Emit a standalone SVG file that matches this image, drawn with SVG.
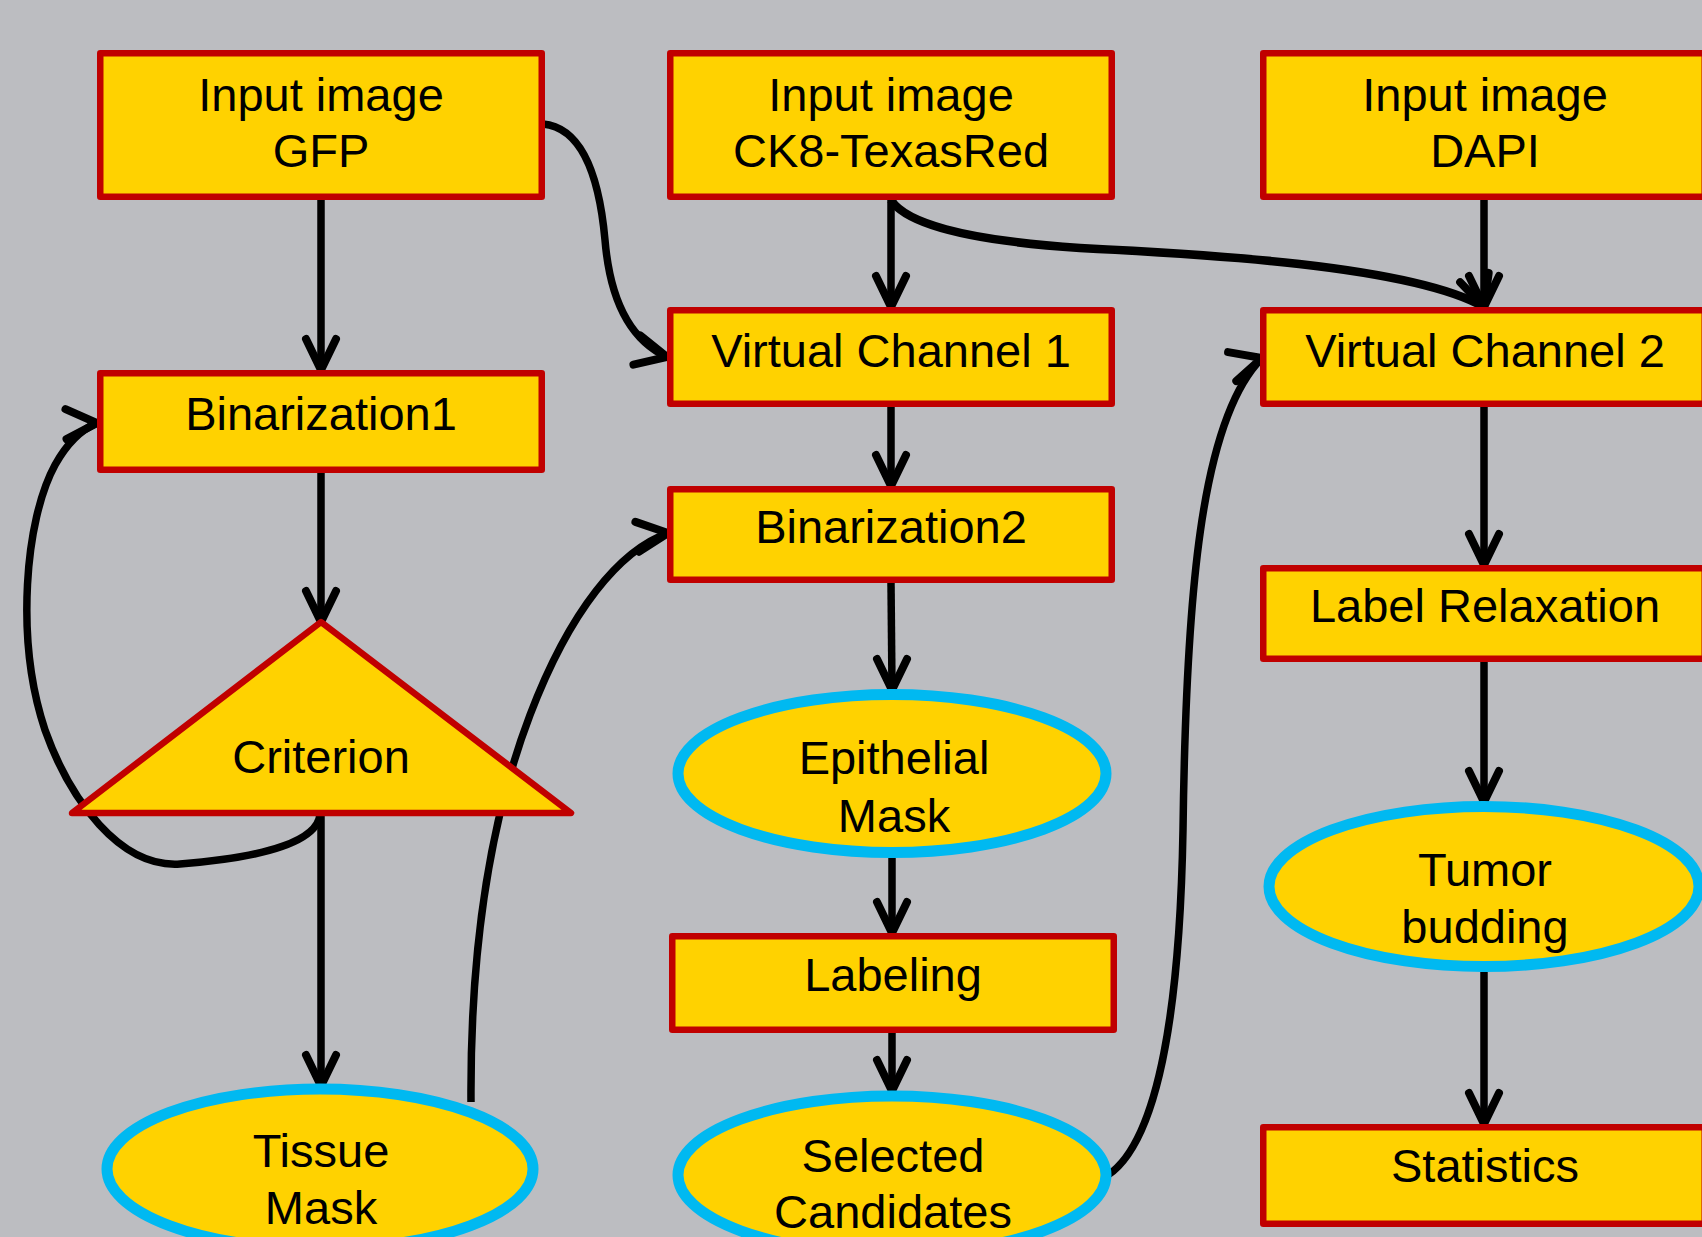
<svg xmlns="http://www.w3.org/2000/svg" xmlns:xlink="http://www.w3.org/1999/xlink" width="1702" height="1237" viewBox="0 0 1702 1237">
<style>
.box{fill:#FFD200;stroke:#C00000;stroke-width:6.5;stroke-linejoin:round}
.oval{fill:#FFD200;stroke:#00B9F1;stroke-width:11}
.tri{fill:#FFD200;stroke:#C00000;stroke-width:6.5;stroke-linejoin:round}
.lbl{font-family:"Liberation Sans",Arial,sans-serif;font-size:47px;fill:#000;text-anchor:middle}
.ln{fill:none;stroke:#000;stroke-width:7.5}
.hd{fill:none;stroke:#000;stroke-width:8;stroke-linecap:round;stroke-linejoin:miter}
</style>
<defs>
<path id="ah" d="M-31,-15 L0,0 L-31,15"/>
</defs>
<rect width="1702" height="1237" fill="#BCBDC1"/>
<g id="connectors">
<path class="ln" d="M321,200 L321,368"/>
<path class="ln" d="M321,473 L321,620"/>
<path class="ln" d="M321,813 L321,1084"/>
<path class="ln" d="M891,200 L891,305"/>
<path class="ln" d="M891,407 L891,484"/>
<path class="ln" d="M891,583 L892,688"/>
<path class="ln" d="M892,858 L892,931"/>
<path class="ln" d="M892,1032 L892,1089"/>
<path class="ln" d="M1484,200 L1484,305"/>
<path class="ln" d="M1484,407 L1484,563"/>
<path class="ln" d="M1484,662 L1484,800"/>
<path class="ln" d="M1484,972 L1484,1122"/>
<path class="ln" d="M543,124 C585,128 600,185 605,240 C610,300 630,340 667,357"/>
<path class="ln" style="stroke-width:8.5" d="M891,200 C905,222 960,240 1080,248 C1200,254 1410,265 1484,307"/>
<path class="ln" d="M320,814 C318,840 270,857 180,864 C120,868 70,800 45,730 C15,640 25,520 55,465 C70,438 85,428 97,423"/>
<path class="ln" d="M471,1102 C470,950 490,820 530,715 C570,610 620,550 668,533"/>
<path class="ln" d="M1108,1175 C1160,1140 1180,1000 1183,830 C1186,600 1200,420 1262,358"/>
<use xlink:href="#ah" class="hd" transform="translate(321,370) rotate(90)"/>
<use xlink:href="#ah" class="hd" transform="translate(321,622) rotate(90)"/>
<use xlink:href="#ah" class="hd" transform="translate(321,1086) rotate(90)"/>
<use xlink:href="#ah" class="hd" transform="translate(891,307) rotate(90)"/>
<use xlink:href="#ah" class="hd" transform="translate(891,486) rotate(90)"/>
<use xlink:href="#ah" class="hd" transform="translate(892,690) rotate(90)"/>
<use xlink:href="#ah" class="hd" transform="translate(892,933) rotate(90)"/>
<use xlink:href="#ah" class="hd" transform="translate(892,1091) rotate(90)"/>
<use xlink:href="#ah" class="hd" transform="translate(1484,307) rotate(90)"/>
<use xlink:href="#ah" class="hd" transform="translate(1484,565) rotate(90)"/>
<use xlink:href="#ah" class="hd" transform="translate(1484,802) rotate(90)"/>
<use xlink:href="#ah" class="hd" transform="translate(1484,1124) rotate(90)"/>
<use xlink:href="#ah" class="hd" transform="translate(667,357) rotate(13)"/>
<use xlink:href="#ah" class="hd" transform="translate(1484,307) rotate(72)"/>
<use xlink:href="#ah" class="hd" transform="translate(97,423) rotate(-2)"/>
<use xlink:href="#ah" class="hd" transform="translate(668,533) rotate(-7)"/>
<use xlink:href="#ah" class="hd" transform="translate(1262,358) rotate(-16)"/>
</g>
<g id="gfp"><rect class="box" x="100.25" y="53.25" width="441.5" height="143.5"/><text class="lbl" x="321" y="111">Input image</text><text class="lbl" x="321" y="167">GFP</text></g>
<g id="ck8"><rect class="box" x="670.25" y="53.25" width="441.5" height="143.5"/><text class="lbl" x="891" y="111">Input image</text><text class="lbl" x="891" y="167">CK8-TexasRed</text></g>
<g id="dapi"><rect class="box" x="1263.25" y="53.25" width="441.5" height="143.5"/><text class="lbl" x="1485" y="111">Input image</text><text class="lbl" x="1485" y="167">DAPI</text></g>
<g id="bin1"><rect class="box" x="100.25" y="373.25" width="441.5" height="96.5"/><text class="lbl" x="321" y="430">Binarization1</text></g>
<g id="vc1"><rect class="box" x="670.25" y="310.25" width="441.5" height="93.5"/><text class="lbl" x="891" y="367">Virtual Channel 1</text></g>
<g id="vc2"><rect class="box" x="1263.25" y="310.25" width="441.5" height="93.5"/><text class="lbl" x="1485" y="367">Virtual Channel 2</text></g>
<g id="bin2"><rect class="box" x="670.25" y="489.25" width="441.5" height="90.5"/><text class="lbl" x="891" y="543">Binarization2</text></g>
<g id="relax"><rect class="box" x="1263.25" y="568.25" width="441.5" height="90.5"/><text class="lbl" x="1485" y="622">Label Relaxation</text></g>
<g id="criterion"><polygon class="tri" points="321,622 571,813 72,813"/><text class="lbl" x="321" y="773">Criterion</text></g>
<g id="epithelial"><ellipse class="oval" cx="892" cy="773.5" rx="214" ry="79"/><text class="lbl" x="894" y="774">Epithelial</text><text class="lbl" x="894" y="832">Mask</text></g>
<g id="labeling"><rect class="box" x="672.25" y="936.25" width="441.5" height="93.5"/><text class="lbl" x="893" y="991">Labeling</text></g>
<g id="selected"><ellipse class="oval" cx="892" cy="1175" rx="214" ry="79"/><text class="lbl" x="893" y="1172">Selected</text><text class="lbl" x="893" y="1228">Candidates</text></g>
<g id="tissue"><ellipse class="oval" cx="320" cy="1169" rx="213" ry="80"/><text class="lbl" x="321" y="1167">Tissue</text><text class="lbl" x="321" y="1224">Mask</text></g>
<g id="tumor"><ellipse class="oval" cx="1484" cy="886.5" rx="215" ry="80"/><text class="lbl" x="1485" y="886">Tumor</text><text class="lbl" x="1485" y="943">budding</text></g>
<g id="stats"><rect class="box" x="1263.25" y="1127.25" width="441.5" height="96.5"/><text class="lbl" x="1485" y="1182">Statistics</text></g>
</svg>
